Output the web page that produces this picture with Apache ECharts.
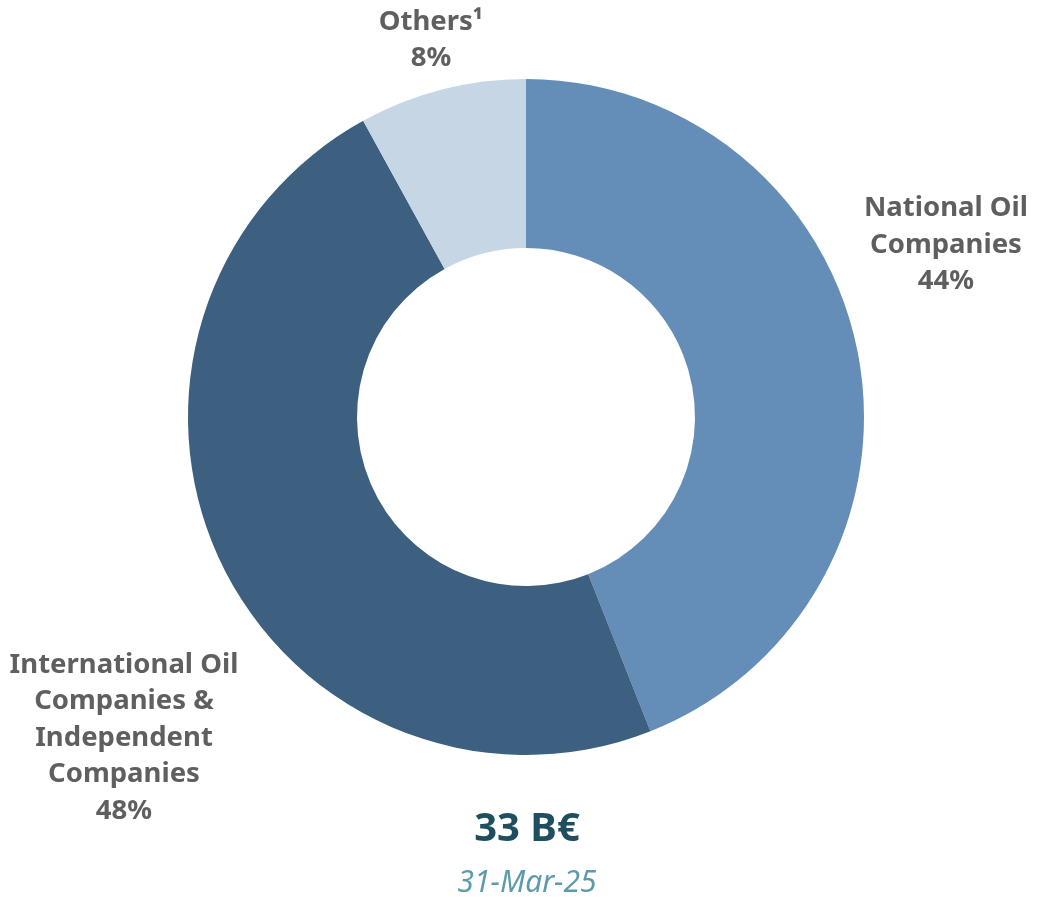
<!DOCTYPE html>
<html>
<head>
<meta charset="utf-8">
<script src="https://cdn.jsdelivr.net/npm/echarts@6/dist/echarts.min.js"></script>
<style>
  html, body { margin: 0; padding: 0; background: #ffffff; }
  #chart { width: 1040px; height: 899px; }
</style>
</head>
<body>
<div id="chart"></div>
<script>
// Segment names, shares (%) and fills
const categories = ['National Oil\nCompanies', 'International Oil\nCompanies &\nIndependent\nCompanies', 'Others\u00B9'];
const shares = [44, 48, 8];
const colors = ['#648EB7', '#3D5F80', '#C6D6E5'];
const totalText = '33 B\u20AC';
const dateText = '31-Mar-25';

// Where each segment's label is centred (px)
const labelSpots = [
  { x: 946, y: 245 },
  { x: 124, y: 738 },
  { x: 431, y: 40 }
];

const FONT = '"Noto Sans", "DejaVu Sans", sans-serif';

const chart = echarts.init(document.getElementById('chart'), null, { renderer: 'canvas' });

chart.setOption({
  backgroundColor: '#ffffff',
  animation: false,
  series: [{
    type: 'pie',
    center: [526, 417],
    radius: [169, 338],
    startAngle: 90,
    clockwise: true,
    avoidLabelOverlap: false,
    data: categories.map((name, i) => ({
      name: name,
      value: shares[i],
      itemStyle: { color: colors[i] }
    })),
    label: {
      show: true,
      position: 'outside',
      formatter: p => p.name + '\n' + p.value + '%',
      fontFamily: FONT,
      fontWeight: 'bold',
      fontSize: 27.5,
      lineHeight: 36.5,
      color: '#5F5F5F',
      align: 'center'
    },
    labelLine: { show: false },
    labelLayout: params => {
      const s = labelSpots[params.dataIndex];
      return { x: s.x, y: s.y, align: 'center', verticalAlign: 'middle' };
    },
    emphasis: { disabled: true }
  }],
  graphic: [
    {
      type: 'text',
      x: 527, y: 830,
      style: {
        text: totalText,
        font: 'bold 40px ' + FONT,
        fill: '#1F4E5E',
        align: 'center',
        verticalAlign: 'middle'
      }
    },
    {
      type: 'text',
      x: 527, y: 883,
      style: {
        text: dateText,
        font: 'italic 30px ' + FONT,
        fill: '#5E9AAE',
        align: 'center',
        verticalAlign: 'middle'
      }
    }
  ]
});
</script>
</body>
</html>
